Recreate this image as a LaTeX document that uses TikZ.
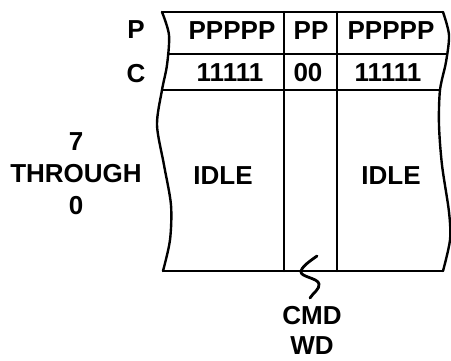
\documentclass[tikz,border=0pt]{standalone}
\usepackage{fontspec}
\setmainfont{Liberation Sans}
\usetikzlibrary{positioning}

\begin{document}
\begin{tikzpicture}[
    x=1pt, y=-1pt,
    rule/.style={line width=2.4pt, line cap=round, line join=round},
    txt/.style={font=\fontsize{26}{32}\selectfont\bfseries, inner sep=0pt},
  ]
  \useasboundingbox (0,0) rectangle (451,361);

  % ===== frame: wavy sides, row rules, column rules =====
  \draw[rule] plot[smooth] coordinates {(162,12) (169,35) (167,65) (162,90)
    (157,125) (164,165) (171,205) (170,240) (163,271)};
  \draw[rule] plot[smooth] coordinates {(443,12) (449,35) (446,62) (440,90)
    (439,125) (442,165) (449,212) (450,240) (443,271)};
  \draw[rule] (162,12) -- (443,12);
  \draw[rule] (168,54) -- (447,54);
  \draw[rule] (162,90) -- (440,90);
  \draw[rule] (163,271) -- (443,271);
  \draw[rule] (284,12) -- (284,271);
  \draw[rule] (337,12) -- (337,271);

  % ===== row labels =====
  \node[txt] (plbl) at (136,30) {P};
  \node[txt] (clbl) at (136,74) {C};
  \node[txt, align=center] (bits) at (76,174) {7\\THROUGH\\0};

  % ===== cell contents =====
  \node[txt] (pleft)  at (232,31) {PPPPP};
  \node[txt] (pmid)   at (311,31) {PP};
  \node[txt] (pright) at (391,31) {PPPPP};
  \node[txt] (cleft)  at (230,73) {11111};
  \node[txt] (cmid)   at (308,73) {00};
  \node[txt] (cright) at (388,73) {11111};
  \node[txt] (idlel)  at (223,176) {IDLE};
  \node[txt] (idler)  at (391,176) {IDLE};

  % ===== command word callout =====
  \node[txt, align=center, font=\fontsize{26}{30}\selectfont\bfseries]
    (cmd) at (312,330) {CMD\\WD};
  \coordinate (lead) at (310,298);
  \coordinate (tip) at (317,256);
  \draw[rule, line width=2.8pt] (lead) .. controls (313,293) and (320,289) .. (319,284)
    .. controls (318,278) and (301,277) .. (301,272)
    .. controls (301,267) and (310,261) .. (tip);
\end{tikzpicture}
\end{document}
